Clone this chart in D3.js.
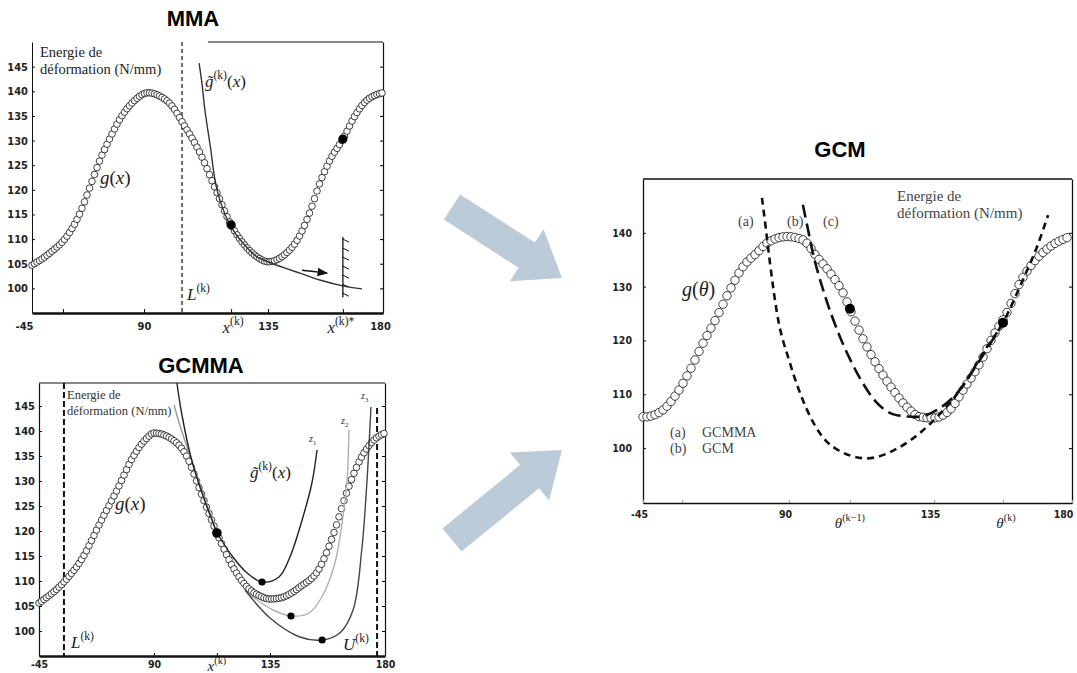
<!DOCTYPE html>
<html><head><meta charset="utf-8">
<script src="https://cdn.jsdelivr.net/npm/d3@7"></script>
<style>body{margin:0;background:#fff}svg{display:block}</style>
</head><body>
<svg id="chart" width="1077" height="673"></svg>
<script>
// ---------------- DATA ----------------
const xBreaks = [-45, 90, 135, 180];
const xTickLabels = {"-45":"-45","90":"90","135":"135","180":"180"};

// MMA panel
const mmaYTicks = [100,105,110,115,120,125,130,135,140,145];
const mmaXTicks = [-45,-7.6,90,121.6,135,164.3,180];
const mmaG = [[-45,104.7],[-23.3,107.2],[-2.8,110.6],[12.9,115.3],[24.9,120.6],[37.0,126.1],[49.0,130.5],[61.1,134.4],[76.7,137.8],[91.5,139.7],[95.8,139.0],[100.2,137.0],[103.8,133.8],[110.3,127.5],[116.5,119.4],[121.2,113.3],[125.9,109.2],[131.0,106.4],[135,105.4],[140.9,106.6],[147.5,110.8],[151.4,115.5],[155.3,121.4],[159.3,126.1],[164.3,130.3],[169.0,135.0],[172.9,137.8],[176.9,139.2],[180,139.7]];
const mmaApprox = [[110.0,145.7],[111.1,141.3],[112.1,136.2],[114.0,129.1],[116.5,120.0],[121.2,112.9],[125.9,109.2],[131.0,106.4],[135,105.4],[141.7,104.1],[147.5,103.1],[155.3,101.7],[164.3,100.5],[171.8,99.9]];
const mmaDots = [[121.6,112.9],[164.3,130.3]];
const mmaL = 103.8;
const mmaTopStart = 113.2;
const mmaWall = {x:164.3, y0:98.2, y1:110.4};
const mmaArrow = [[148.3,103.7],[158.1,103.1]];

// GCMMA panel
const gcYTicks = [100,105,110,115,120,125,130,135,140,145];
const gcXTicks = [-45,90,114.4,135,180];
const gcG = [[-45,105.6],[-16.8,109.6],[6.7,114.8],[26.6,121.6],[46.6,128.2],[65.3,134.8],[81.8,138.6],[90,139.6],[96.2,138.6],[102.8,134.8],[107.8,128.2],[114.4,119.6],[120.6,112.8],[126.1,108.8],[131.1,107.0],[135,106.4],[138.9,106.6],[146.7,108.8],[154.6,112.8],[159.7,119.2],[165.1,127.8],[170.2,134.2],[175.3,138.0],[180,139.6]];
const gcUpperBlack = [[98.9,149.6],[100.7,143.6],[104.6,134.2],[108.9,127.2],[114.4,119.6]];
const gcUpperGray = [[97.8,145.2],[100.0,141.2],[103.9,135.2],[108.9,127.8],[114.4,119.6]];
const gcZ1 = [[114.4,119.6],[120.6,114.8],[126.1,111.6],[131.9,109.8],[138.5,110.8],[142.8,114.8],[147.9,122.8],[151.4,129.6],[153.4,136.2]];
const gcZ2 = [[127.2,107.2],[130.0,106.2],[136.2,104.2],[143.2,103.0],[150.3,103.6],[155.3,106.8],[160.4,113.6],[163.2,121.6],[165.1,129.6],[165.9,140.2]];
const gcZ3 = [[125.3,108.2],[135,102.6],[146.7,98.8],[155.4,98.2],[162.3,99.6],[167.5,104.2],[170.9,116.2],[172.9,129.6],[174.5,144.8]];
const gcDotMain = [114.4,119.6];
const gcDots = [[131.9,109.8],[143.2,103.0],[155.4,98.2]];
const gcL = -15.7, gcU = 176.9, gcUTop = 144.6;

// GCM panel
const gmYTicks = [100,110,120,130,140];
const gmXTicks = [-45,-8.9,90,108.9,135,157.5,180];
const gmG = [[-45,105.8],[-43.2,105.8],[-26.5,107.1],[-13.6,110.2],[-1.5,114.5],[10.5,119.5],[23.4,124.4],[35.4,129.4],[47.5,133.7],[60.4,136.3],[69.7,138.1],[88.2,139.3],[94.3,138.7],[98.7,135.5],[102.7,132.6],[106.8,128.8],[109.9,124.4],[114.2,118.8],[118.2,114.5],[122.3,110.8],[126.6,107.6],[130.7,105.8],[134.7,105.6],[140.2,107.1],[144.5,110.8],[150.0,115.8],[154.2,120.7],[158.8,125.2],[163.0,130.7],[167.3,134.4],[172.8,137.4],[179.3,139.3]];
const gmA = [[65.0,146.5],[68.7,140.6],[72.4,134.4],[78.9,125.1],[90.3,115.8],[95.6,107.1],[103.7,100.2],[114.2,98.1],[124.4,100.2],[131.6,103.3],[136.0,105.8],[143.5,110.8],[151.6,118.2],[157.5,123.3],[164.0,131.3],[168.6,137.4],[172.2,143.3]];
const gmB = [[94.3,145.2],[95.9,140.6],[97.4,136.3],[100.6,129.4],[105.8,120.7],[111.1,114.0],[117.3,108.4],[123.5,106.1],[129.7,105.8],[136.0,107.1],[142.5,110.2],[150.0,116.4],[157.5,123.3]];
const gmDots = [[108.9,125.9],[157.5,123.3]];
const legendRows = [["(a)","GCMMA"],["(b)","GCM"]];

// ---------------- DRAW ----------------
const svg = d3.select('#chart');
const SERIF = "'Liberation Serif','Times New Roman',serif";
const SANS = "'Liberation Sans',Arial,sans-serif";
const TICKF = "'DejaVu Sans Condensed','Liberation Sans Narrow',sans-serif";

function mtext(g, x, y, segs, o={}) {
  const size = o.size || 16;
  const t = g.append('text').attr('x',x).attr('y',y).attr('font-family',SERIF)
    .attr('font-size',size).attr('fill',o.fill||'#111');
  if (o.anchor) t.attr('text-anchor',o.anchor);
  let shift = 0;
  segs.forEach(s => {
    const sp = t.append('tspan').text(s.t);
    if (s.i) sp.attr('font-style','italic');
    const target = s.sup ? -size*0.45 : (s.sub ? size*0.3 : 0);
    const dy = target - shift; shift = target;
    if (dy) sp.attr('dy', dy);
    if (s.sup || s.sub) sp.attr('font-size', size*0.68);
  });
  return t;
}

function markers(g, pts, xs, ys, pixXs, r, sw) {
  const line = d3.line().x(d=>xs(d[0])).y(d=>ys(d[1])).curve(d3.curveMonotoneX);
  const path = g.append('path').attr('d', line(pts)).attr('fill','none');
  const node = path.node(), L = node.getTotalLength();
  const n = Math.ceil(L*2), S = [];
  for (let i=0;i<=n;i++){ const p=node.getPointAtLength(L*i/n); S.push([p.x,p.y]); }
  const out = []; let j = 0;
  pixXs.forEach(x => {
    if (x < S[0][0]-0.01 || x > S[n][0]+0.01) return;
    while (j < n-1 && S[j+1][0] < x) j++;
    const a=S[j], b=S[j+1];
    const t = b[0]===a[0] ? 0 : Math.max(0,Math.min(1,(x-a[0])/(b[0]-a[0])));
    out.push([x, a[1]+(b[1]-a[1])*t]);
  });
  path.remove();
  g.append('g').selectAll('circle').data(out).join('circle')
    .attr('cx',d=>d[0]).attr('cy',d=>d[1]).attr('r',r)
    .attr('fill','#fff').attr('stroke','#111').attr('stroke-width',sw);
}

function curve(g, pts, xs, ys, stroke, w, dash, type) {
  const line = d3.line().x(d=>xs(d[0])).y(d=>ys(d[1])).curve(type||d3.curveMonotoneX);
  const p = g.append('path').attr('d',line(pts)).attr('fill','none')
    .attr('stroke',stroke).attr('stroke-width',w);
  if (dash) p.attr('stroke-dasharray',dash);
  return p;
}

function styleTicks(sel, size, weight) {
  sel.selectAll('text').attr('font-family',TICKF).attr('font-size',size)
    .attr('font-weight',weight).attr('fill','#222');
  sel.selectAll('.tick line').attr('stroke','#111');
}

function blockArrow(sx, sy, ex, ey, sw, hw, hl, fill) {
  const dx=ex-sx, dy=ey-sy, len=Math.hypot(dx,dy), ux=dx/len, uy=dy/len, px=-uy, py=ux;
  const bx=ex-ux*hl, by=ey-uy*hl;
  const P = [[sx+px*sw/2,sy+py*sw/2],[bx+px*sw/2,by+py*sw/2],[bx+px*hw/2,by+py*hw/2],[ex,ey],
             [bx-px*hw/2,by-py*hw/2],[bx-px*sw/2,by-py*sw/2],[sx-px*sw/2,sy-py*sw/2]];
  svg.append('polygon').attr('points',P.map(p=>p.join(',')).join(' ')).attr('fill',fill);
}

// titles
[["MMA",193,26],["GCMMA",201,373],["GCM",840,157]].forEach(([t,x,y]) =>
  svg.append('text').attr('x',x).attr('y',y).attr('text-anchor','middle')
    .attr('font-family',SANS).attr('font-weight','bold').attr('font-size',22).attr('fill','#000').text(t));

// arrows
blockArrow(452,207,562,278,30,62,42,'#bccbd8');
blockArrow(452,540,562,450,30,62,42,'#bccbd8');

// ========== Panel 1: MMA ==========
{
  const x = d3.scaleLinear().domain(xBreaks).range([32,144,268,383]);
  const y = d3.scaleLinear().domain([95,150]).range([313,42]);
  const g = svg.append('g');
  g.append('line').attr('x1',x(mmaTopStart)).attr('x2',x(180)).attr('y1',y(150)).attr('y2',y(150)).attr('stroke','#111').attr('stroke-width',1.2);
  g.append('g').attr('transform',`translate(${x(-45)},0)`)
    .call(d3.axisLeft(y).tickValues(mmaYTicks).tickSizeInner(-3).tickSizeOuter(0).tickPadding(4))
    .call(s=>{s.select('.domain').attr('stroke','#111').attr('stroke-width',1); styleTicks(s,11,'bold');});
  g.append('g').attr('transform',`translate(${x(180)},0)`)
    .call(d3.axisRight(y).tickValues(mmaYTicks).tickSizeInner(-3).tickSizeOuter(0).tickFormat(''))
    .call(s=>s.select('.domain').attr('stroke','#111').attr('stroke-width',1.2));
  g.append('g').attr('transform',`translate(0,${y(95)})`)
    .call(d3.axisBottom(x).tickValues(mmaXTicks).tickSizeInner(-4).tickSizeOuter(0).tickPadding(9)
      .tickFormat(d => xTickLabels[String(d)] || ''))
    .call(s=>{s.select('.domain').attr('stroke','#111').attr('stroke-width',2.5); styleTicks(s,11,'bold');
      s.selectAll('text').attr('dx', d => d===-45 ? -8 : (d===180 ? -3 : 0));});
  g.append('line').attr('x1',x(mmaL)).attr('x2',x(mmaL)).attr('y1',y(150)).attr('y2',y(95))
    .attr('stroke','#111').attr('stroke-width',1.2).attr('stroke-dasharray','4,3');
  const pix = d3.range(x(-45), x(180)+0.01, 2.5);
  markers(g, mmaG, x, y, pix, 3.3, 0.8);
  curve(g, mmaApprox, x, y, '#333', 1.4, null, d3.curveCatmullRom);
  g.selectAll('.dot').data(mmaDots).join('circle').attr('cx',d=>x(d[0])).attr('cy',d=>y(d[1])).attr('r',4.6).attr('fill','#000');
  const wx = x(mmaWall.x), wy0 = y(mmaWall.y1), wy1 = y(mmaWall.y0);
  g.append('line').attr('x1',wx).attr('x2',wx).attr('y1',wy0).attr('y2',wy1).attr('stroke','#111').attr('stroke-width',1.3);
  d3.range(7).forEach(i => {
    const yy = wy0 + 2 + i*(wy1-wy0-6)/6;
    g.append('line').attr('x1',wx).attr('y1',yy).attr('x2',wx+6).attr('y2',yy+3).attr('stroke','#111').attr('stroke-width',1);
  });
  svg.append('defs').append('marker').attr('id','ah').attr('viewBox','0 0 10 10').attr('refX',9).attr('refY',5)
    .attr('markerWidth',7).attr('markerHeight',7).attr('orient','auto')
    .append('path').attr('d','M0,1L10,5L0,9Z').attr('fill','#111');
  g.append('line').attr('x1',x(mmaArrow[0][0])).attr('y1',y(mmaArrow[0][1])).attr('x2',x(mmaArrow[1][0])).attr('y2',y(mmaArrow[1][1]))
    .attr('stroke','#111').attr('stroke-width',1.5).attr('marker-end','url(#ah)');
  g.append('text').attr('x',40).attr('y',57).attr('font-family',SERIF).attr('font-size',14.5).attr('fill','#222').text('Energie de');
  g.append('text').attr('x',40).attr('y',74).attr('font-family',SERIF).attr('font-size',14.5).attr('fill','#222').text('déformation (N/mm)');
  mtext(g, 205, 87, [{t:'g̃',i:1},{t:'(k)',sup:1},{t:'('},{t:'x',i:1},{t:')'}], {size:17, fill:'#222'});
  mtext(g, 100, 184, [{t:'g',i:1},{t:'('},{t:'x',i:1},{t:')'}], {size:19, fill:'#222'});
  mtext(g, 187, 300, [{t:'L',i:1},{t:'(k)',sup:1}], {size:17, fill:'#222'});
  mtext(g, x(mmaDots[0][0])+2, 333, [{t:'x',i:1},{t:'(k)',sup:1}], {size:17, anchor:'middle', fill:'#222'});
  mtext(g, x(mmaDots[1][0])-2, 333, [{t:'x',i:1},{t:'(k)*',sup:1}], {size:17, anchor:'middle', fill:'#222'});
}

// ========== Panel 2: GCMMA ==========
{
  const x = d3.scaleLinear().domain(xBreaks).range([39,154,270,385]);
  const y = d3.scaleLinear().domain([95,149.6]).range([656,383]);
  const g = svg.append('g');
  g.append('line').attr('x1',x(-45)).attr('x2',x(180)).attr('y1',y(149.6)).attr('y2',y(149.6)).attr('stroke','#111').attr('stroke-width',1.2);
  g.append('g').attr('transform',`translate(${x(-45)},0)`)
    .call(d3.axisLeft(y).tickValues(gcYTicks).tickSizeInner(-3).tickSizeOuter(0).tickPadding(4))
    .call(s=>{s.select('.domain').attr('stroke','#111').attr('stroke-width',1.2); styleTicks(s,11,'bold');});
  g.append('g').attr('transform',`translate(${x(180)},0)`)
    .call(d3.axisRight(y).tickValues(gcYTicks).tickSizeInner(-3).tickSizeOuter(0).tickFormat(''))
    .call(s=>s.select('.domain').attr('stroke','#111').attr('stroke-width',1.2));
  g.append('g').attr('transform',`translate(0,${y(95)})`)
    .call(d3.axisBottom(x).tickValues(gcXTicks).tickSizeInner(-3).tickSizeOuter(0).tickPadding(5)
      .tickFormat(d => xTickLabels[String(d)] || ''))
    .call(s=>{s.select('.domain').attr('stroke','#111').attr('stroke-width',2.5); styleTicks(s,10.5,'bold');});
  g.append('line').attr('x1',x(gcL)).attr('x2',x(gcL)).attr('y1',y(149.6)).attr('y2',y(95))
    .attr('stroke','#111').attr('stroke-width',2).attr('stroke-dasharray','6,3');
  g.append('line').attr('x1',x(gcU)).attr('x2',x(gcU)).attr('y1',y(gcUTop)).attr('y2',y(95))
    .attr('stroke','#111').attr('stroke-width',2).attr('stroke-dasharray','6,3');
  const pix = d3.range(x(-45), x(180)+0.01, 2.5);
  markers(g, gcG, x, y, pix, 3.3, 0.8);
  curve(g, gcUpperGray, x, y, '#999', 1.4, null, d3.curveCatmullRom);
  curve(g, gcUpperBlack, x, y, '#222', 1.4, null, d3.curveCatmullRom);
  curve(g, gcZ2, x, y, '#b0b0b0', 1.4, null, d3.curveCatmullRom);
  curve(g, gcZ3, x, y, '#444', 1.4, null, d3.curveCatmullRom);
  curve(g, gcZ1, x, y, '#222', 1.4, null, d3.curveCatmullRom);
  g.append('circle').attr('cx',x(gcDotMain[0])).attr('cy',y(gcDotMain[1])).attr('r',4.8).attr('fill','#000');
  g.selectAll('.dot').data(gcDots).join('circle').attr('cx',d=>x(d[0])).attr('cy',d=>y(d[1])).attr('r',3.6).attr('fill','#000');
  g.append('text').attr('x',67).attr('y',399).attr('font-family',SERIF).attr('font-size',12.5).attr('fill','#333').text('Energie de');
  g.append('text').attr('x',67).attr('y',415).attr('font-family',SERIF).attr('font-size',12.5).attr('fill','#333').text('déformation (N/mm)');
  mtext(g, 115, 510, [{t:'g',i:1},{t:'('},{t:'x',i:1},{t:')'}], {size:19, fill:'#222'});
  mtext(g, 250, 478, [{t:'g̃',i:1},{t:'(k)',sup:1},{t:'('},{t:'x',i:1},{t:')'}], {size:17, fill:'#222'});
  mtext(g, 71, 648, [{t:'L',i:1},{t:'(k)',sup:1}], {size:17, fill:'#222'});
  mtext(g, 343, 650, [{t:'U',i:1},{t:'(k)',sup:1}], {size:17, fill:'#222'});
  mtext(g, x(gcDotMain[0]), 671, [{t:'x',i:1},{t:'(k)',sup:1}], {size:15, anchor:'middle', fill:'#222'});
  mtext(g, 309, 442, [{t:'z',i:1},{t:'1',sub:1}], {size:10, fill:'#333'});
  mtext(g, 341, 424, [{t:'z',i:1},{t:'2',sub:1}], {size:10, fill:'#333'});
  mtext(g, 361, 399, [{t:'z',i:1},{t:'3',sub:1}], {size:10, fill:'#333'});
}

// ========== Panel 3: GCM ==========
{
  const x = d3.scaleLinear().domain(xBreaks).range([643,789,934,1072]);
  const y = d3.scaleLinear().domain([89.8,150]).range([503,179]);
  const g = svg.append('g');
  g.append('line').attr('x1',x(-45)).attr('x2',x(180)).attr('y1',y(150)).attr('y2',y(150)).attr('stroke','#111').attr('stroke-width',1.3);
  g.append('g').attr('transform',`translate(${x(-45)},0)`)
    .call(d3.axisLeft(y).tickValues(gmYTicks).tickSizeInner(-3).tickSizeOuter(0).tickPadding(11))
    .call(s=>{s.select('.domain').attr('stroke','#111').attr('stroke-width',1.3); styleTicks(s,10.5,'bold');});
  g.append('g').attr('transform',`translate(${x(180)},0)`)
    .call(d3.axisRight(y).tickValues(gmYTicks).tickSizeInner(-3).tickSizeOuter(0).tickFormat(''))
    .call(s=>s.select('.domain').attr('stroke','#111').attr('stroke-width',1.3));
  g.append('g').attr('transform',`translate(0,${y(89.8)})`)
    .call(d3.axisBottom(x).tickValues(gmXTicks).tickSizeInner(-3).tickSizeOuter(0).tickPadding(8)
      .tickFormat(d => xTickLabels[String(d)] || ''))
    .call(s=>{s.select('.domain').attr('stroke','#111').attr('stroke-width',1.6); styleTicks(s,10.5,'bold');
      s.selectAll('.tick line').attr('stroke','#999');
      s.selectAll('text').attr('dx', d => d===180 ? -9 : -4);});
  const pix = d3.range(x(-45), x(180)+0.01, 4);
  markers(g, gmG, x, y, pix, 4.2, 0.8);
  curve(g, gmA, x, y, '#111', 2.6, '7,5');
  curve(g, gmB, x, y, '#111', 2.6, '13,6');
  g.selectAll('.dot').data(gmDots).join('circle').attr('cx',d=>x(d[0])).attr('cy',d=>y(d[1])).attr('r',5).attr('fill','#000');
  g.append('text').attr('x',897).attr('y',201).attr('font-family',SERIF).attr('font-size',15).attr('fill','#444').text('Energie de');
  g.append('text').attr('x',897).attr('y',218).attr('font-family',SERIF).attr('font-size',15).attr('fill','#444').text('déformation (N/mm)');
  mtext(g, 682, 296, [{t:'g',i:1},{t:'('},{t:'θ',i:1},{t:')'}], {size:20, fill:'#222'});
  [["(a)",738],["(b)",787],["(c)",823]].forEach(([t,xx]) =>
    g.append('text').attr('x',xx).attr('y',226).attr('font-family',SERIF).attr('font-size',14).attr('fill','#444').text(t));
  legendRows.forEach((r,i) => {
    g.append('text').attr('x',670).attr('y',437+i*16).attr('font-family',SERIF).attr('font-size',14).attr('fill','#444').text(r[0]);
    g.append('text').attr('x',702).attr('y',437+i*16).attr('font-family',SERIF).attr('font-size',14).attr('fill','#444').text(r[1]);
  });
  mtext(g, x(gmDots[0][0]), 528, [{t:'θ',i:1},{t:'(k−1)',sup:1}], {size:15, anchor:'middle', fill:'#222'});
  mtext(g, x(gmDots[1][0])+3, 528, [{t:'θ',i:1},{t:'(k)',sup:1}], {size:15, anchor:'middle', fill:'#222'});
}
</script>
</body></html>
